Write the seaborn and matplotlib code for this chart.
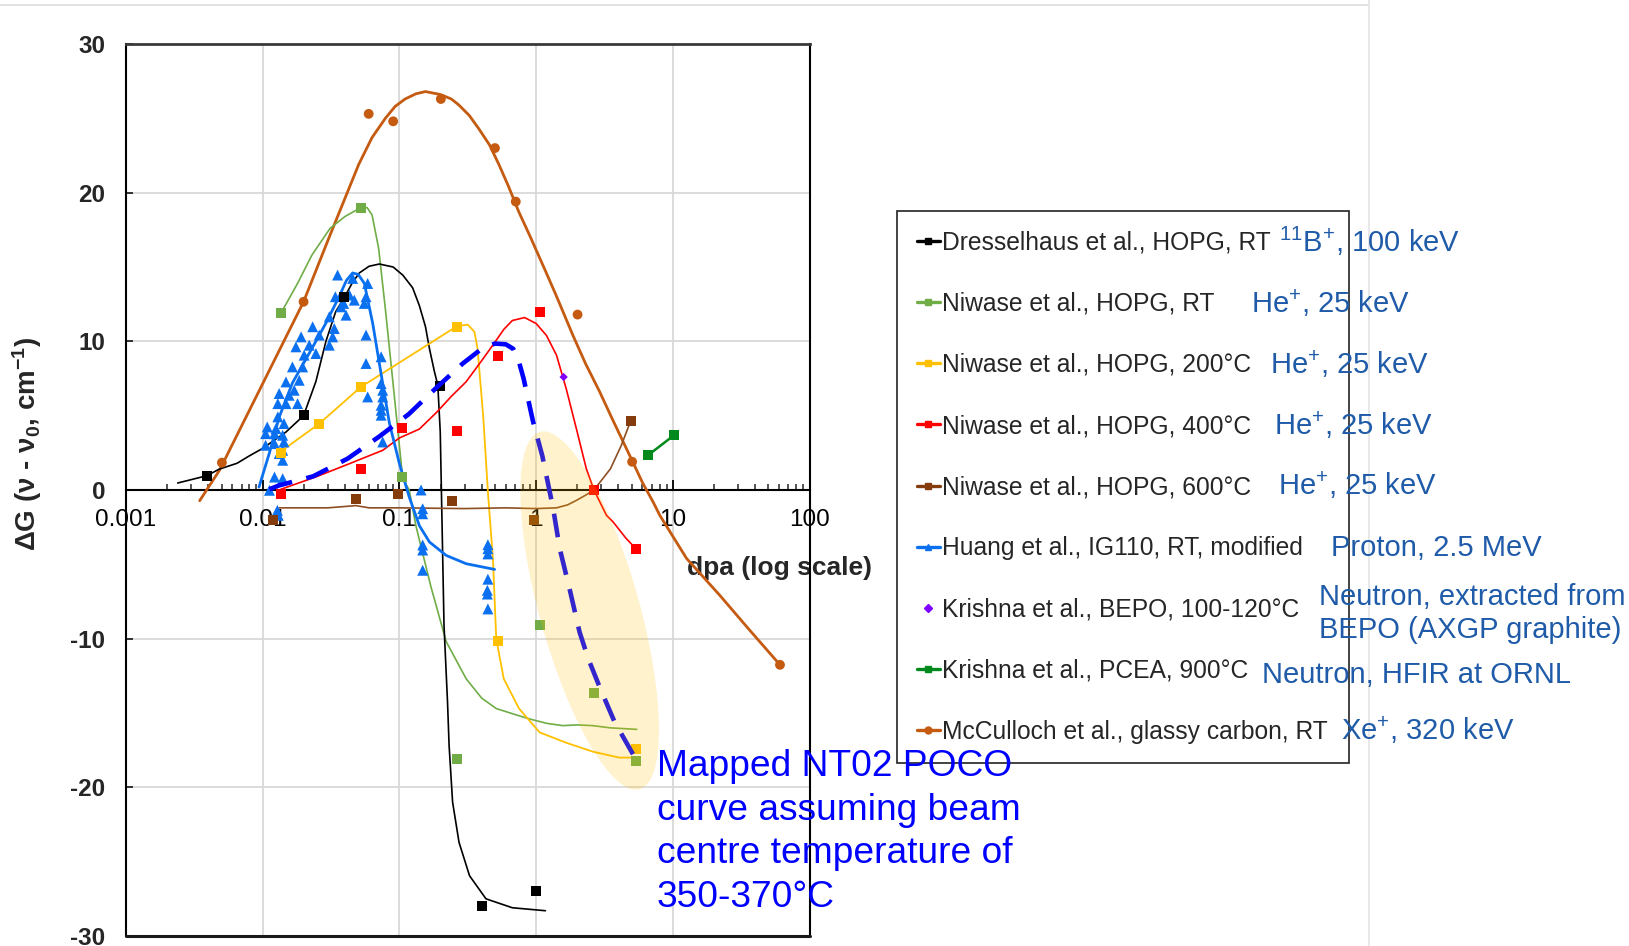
import numpy as np
import pandas as pd
import matplotlib
matplotlib.use("Agg")
import matplotlib.pyplot as plt
import matplotlib.ticker as mticker
import seaborn as sns
from matplotlib.lines import Line2D
from matplotlib.patches import Ellipse
from matplotlib.transforms import IdentityTransform

# ---------------- data ----------------
x_ticks = [0.001, 0.01, 0.1, 1, 10, 100]
x_tick_labels = ["0.001", "0.01", "0.1", "1", "10", "100"]
y_ticks = [-30, -20, -10, 0, 10, 20, 30]
y_tick_labels = ["-30", "-20", "-10", "0", "10", "20", "30"]

# Dresselhaus et al., HOPG, RT
dress_x = [0.0039, 0.0199, 0.0393, 0.199, 0.40, 1.0]
dress_y = [0.96, 5.03, 12.95, 7.0, -27.97, -27.0]
dress_cx = [0.00239, 0.0039, 0.0048, 0.0065, 0.008, 0.01, 0.0148, 0.0199, 0.0245, 0.029,
            0.0342, 0.0393, 0.045, 0.0509, 0.06, 0.0713, 0.09, 0.106, 0.125, 0.14, 0.155,
            0.166, 0.18, 0.191, 0.199, 0.205, 0.212, 0.225, 0.231, 0.245, 0.273, 0.326, 0.43,
            0.67, 1.17]
dress_cy = [0.47, 0.96, 1.4, 1.8, 2.3, 2.8, 3.9, 5.0, 7.3, 10.0,
            12.0, 12.9, 13.9, 14.6, 15.05, 15.2, 15.0, 14.45, 13.6, 12.4, 11.0,
            9.5, 8.0, 7.05, 3.9, -2.15, -9.1, -14.3, -17.2, -21.0, -23.7, -25.95, -27.5,
            -28.1, -28.3]

# Niwase et al., HOPG, RT
nrt_x = [0.0136, 0.0524, 0.1047, 0.262, 1.06, 2.64, 5.36]
nrt_y = [11.9, 19.0, 0.87, -18.1, -9.07, -13.65, -18.2]
nrt_cx = [0.0136, 0.018, 0.0229, 0.0311, 0.04, 0.0524, 0.058, 0.0631, 0.0705, 0.0789, 0.09,
          0.1058, 0.118, 0.132, 0.17, 0.22, 0.308, 0.4, 0.511, 0.7, 0.896, 1.2, 1.57, 2.0,
          2.6, 3.5, 5.45]
nrt_cy = [11.9, 13.9, 15.8, 17.6, 18.4, 19.0, 19.0, 18.5, 16.25, 12.2, 7.1,
          0.76, 0.0, -2.4, -6.5, -10.2, -12.7, -14.0, -14.7, -15.1, -15.4, -15.7, -15.85, -15.8,
          -15.85, -16.0, -16.1]

# Niwase et al., HOPG, 200C
n200_x = [0.0136, 0.0259, 0.0524, 0.262, 0.525, 5.36]
n200_y = [2.5, 4.46, 6.94, 10.98, -10.19, -17.4]
n200_cx = [0.0136, 0.0259, 0.0524, 0.262, 0.316, 0.354, 0.373, 0.41, 0.444, 0.483, 0.511,
           0.58, 0.75, 1.06, 1.66, 2.6, 4.06, 5.3]
n200_cy = [2.6, 4.46, 6.94, 11.0, 11.13, 10.64, 9.5, 5.0, -0.13, -4.6, -10.0,
           -12.7, -14.7, -16.3, -17.0, -17.6, -18.0, -18.0]

# Niwase et al., HOPG, 400C
n400_x = [0.0136, 0.0524, 0.1047, 0.262, 0.525, 1.06, 2.65, 5.36]
n400_y = [-0.25, 1.39, 4.17, 3.97, 9.0, 12.0, 0.0, -4.0]
n400_cx = [0.0136, 0.0245, 0.0431, 0.0755, 0.1, 0.14, 0.186, 0.24, 0.307, 0.4, 0.482, 0.58,
           0.67, 0.824, 1.0, 1.19, 1.41, 1.66, 1.97, 2.33, 2.65, 3.27, 3.66, 4.5, 5.36]
n400_cy = [0.05, 0.88, 1.77, 2.67, 3.5, 4.1, 5.2, 6.3, 7.27, 8.7, 9.74, 10.8,
           11.4, 11.6, 11.2, 10.4, 9.07, 6.82, 4.13, 1.43, 0.0, -1.7, -2.15, -3.2, -3.95]

# Niwase et al., HOPG, 600C
n600_x = [0.0118, 0.048, 0.097, 0.243, 0.96, 4.92]
n600_y = [-2.0, -0.58, -0.3, -0.76, -2.0, 4.65]
n600_cx = [0.0132, 0.03, 0.048, 0.06, 0.1, 0.3, 0.6, 1.0, 1.41, 1.7, 1.97, 2.3, 2.65, 3.5,
           4.2, 4.92]
n600_cy = [-1.2, -1.2, -1.05, -1.2, -1.2, -1.25, -1.2, -1.25, -1.2, -1.0, -0.7, -0.35, 0.0,
           1.43, 3.0, 4.65]

# Huang et al., IG110, RT, modified (triangles)
huang_x = [0.0353, 0.0455, 0.0586, 0.0340, 0.0391, 0.0431, 0.0468, 0.0570, 0.0374, 0.0407,
           0.0553, 0.0307, 0.0334, 0.0232, 0.0325, 0.0191, 0.0259, 0.0219, 0.0307, 0.0175,
           0.0201, 0.0245, 0.0165, 0.0196, 0.0570, 0.0570, 0.0735, 0.0148, 0.0185, 0.0170,
           0.0735, 0.0132, 0.0156, 0.0180, 0.0129, 0.0148, 0.0586, 0.0755, 0.0755, 0.0735,
           0.0735, 0.0735, 0.0129, 0.0143, 0.0108, 0.0125, 0.0105, 0.0122, 0.0140, 0.0105,
           0.0122, 0.0143, 0.0140, 0.0132, 0.0140, 0.0122, 0.0140, 0.0112, 0.0755, 0.144,
           0.0128, 0.0130, 0.148, 0.148, 0.148, 0.148, 0.148, 0.444, 0.444, 0.444,
           0.444, 0.440, 0.440, 0.444]
huang_y = [14.46, 14.23, 13.89, 13.0, 12.55, 13.11, 12.77, 13.0, 12.32, 11.76,
           12.55, 11.65, 10.86, 10.98, 10.30, 10.30, 10.42, 9.74, 9.74, 9.63,
           9.07, 9.18, 8.28, 8.28, 10.42, 8.51, 8.96, 7.27, 7.38, 6.71,
           7.16, 6.49, 6.37, 5.81, 5.81, 5.81, 6.26, 6.71, 6.26, 5.70,
           5.36, 5.03, 4.92, 4.47, 4.24, 4.13, 3.79, 3.79, 3.68, 3.01,
           3.12, 3.23, 2.67, 2.45, 2.0, 0.87, 0.76, -0.02, 3.23, 0.0,
           -1.37, -1.7, -1.26, -1.6, -3.7, -4.04, -5.4, -3.68, -3.95, -4.3,
           -6.0, -6.75, -7.0, -8.0]
huang_cx = [0.0094, 0.0112, 0.0132, 0.0165, 0.0219, 0.0289, 0.0362, 0.041, 0.0455, 0.05,
            0.0554, 0.0638, 0.0735, 0.0845, 0.1, 0.118, 0.14, 0.166, 0.22, 0.308, 0.497]
huang_cy = [0.2, 2.5, 4.9, 7.2, 9.2, 11.2, 13.0, 14.1, 14.6, 14.5,
            13.9, 11.2, 7.8, 4.5, 1.77, -0.47, -2.4, -3.5, -4.4, -4.96, -5.34]

# Krishna et al., BEPO
bepo_x = [1.59]
bepo_y = [7.6]
# Krishna et al., PCEA, 900C
pcea_x = [6.59, 10.2]
pcea_y = [2.34, 3.68]

# McCulloch et al., glassy carbon, RT
mcc_x = [0.00503, 0.0199, 0.0596, 0.090, 0.201, 0.50, 0.71, 2.01, 5.04, 60.8]
mcc_y = [1.84, 12.66, 25.3, 24.8, 26.3, 23.0, 19.4, 11.8, 1.9, -11.76]
mcc_cx = [0.00346, 0.00483, 0.0199, 0.0311, 0.0504, 0.063, 0.0789, 0.093, 0.11, 0.132,
          0.155, 0.2, 0.24, 0.272, 0.324, 0.381, 0.457, 0.534, 0.63, 0.748, 0.9, 1.175, 1.4,
          1.86, 2.3, 2.92, 3.6, 4.58, 5.07, 6.0, 7.18, 8.03, 12.6, 22.1, 35.5, 60.8]
mcc_cy = [-0.72, 1.33, 12.66, 17.15, 21.9, 23.7, 25.0, 25.8, 26.3, 26.65,
          26.8, 26.6, 26.3, 25.9, 25.2, 24.3, 23.2, 21.9, 20.4, 18.7, 17.1, 14.7, 13.1,
          10.4, 8.5, 6.6, 4.8, 2.78, 1.93, 0.5, -0.81, -1.7, -4.6, -7.09, -9.3, -11.76]

# Mapped NT02 POCO curve (dashed)
nt02_x = [0.0112, 0.0132, 0.0234, 0.0418, 0.0713, 0.117, 0.186, 0.29, 0.4, 0.5, 0.6, 0.68,
          0.75, 0.81, 0.95, 1.11, 1.33, 1.49, 1.78, 2.08, 2.41, 2.96, 3.75, 5.36]
nt02_y = [0.05, 0.31, 0.92, 2.11, 3.6, 5.1, 6.87, 8.5, 9.5, 9.85, 9.8, 9.5,
          8.6, 7.5, 4.6, 2.3, -1.2, -3.95, -6.87, -9.56, -11.36, -13.4, -15.6, -18.1]

series_labels = ["Dresselhaus et al., HOPG, RT", "Niwase et al., HOPG, RT",
                 "Niwase et al., HOPG, 200°C", "Niwase et al., HOPG, 400°C",
                 "Niwase et al., HOPG, 600°C", "Huang et al., IG110, RT, modified",
                 "Krishna et al., BEPO, 100-120°C", "Krishna et al., PCEA, 900°C",
                 "McCulloch et al., glassy carbon, RT"]
ion_labels = ["$^{11}$B$^{+}$, 100 keV", "He$^{+}$, 25 keV", "He$^{+}$, 25 keV",
              "He$^{+}$, 25 keV", "He$^{+}$, 25 keV", "Proton, 2.5 MeV",
              "Neutron, extracted from\nBEPO (AXGP graphite)", "Neutron, HFIR at ORNL",
              "Xe$^{+}$, 320 keV"]
note_text = "Mapped NT02 POCO\ncurve assuming beam\ncentre temperature of\n350-370°C"
x_label = "dpa (log scale)"
y_label = "ΔG (ν - ν$_0$, cm$^{-1}$)"

# ---------------- styling ----------------
sns.set_theme(style="white")
plt.rcParams["font.family"] = ["Liberation Sans", "DejaVu Sans"]
plt.rcParams["mathtext.default"] = "regular"
plt.rcParams["axes.unicode_minus"] = False

C_BLACK = "#000000"
C_GREEN = "#70AD47"
C_YELLOW = "#FFC000"
C_RED = "#FF0000"
C_BROWN = "#843C0C"
C_BLUE = "#0A70F0"
C_PURPLE = "#7F00FF"
C_DGREEN = "#008A1E"
C_ORANGE = "#C55A11"
C_NOTE = "#1F5BA8"

W, H = 1629, 946
fig = plt.figure(figsize=(W / 100, H / 100), dpi=100)
fig.patch.set_facecolor("white")
ax = fig.add_axes([126 / W, 1 - 936 / H, (809.5 - 126) / W, (936 - 44) / H])
ax.set_xscale("log")
ax.set_xlim(0.001, 100)
ax.set_ylim(-30, 30)


def curve(x, y, color, lw, z=3):
    sns.lineplot(x=x, y=y, ax=ax, color=color, linewidth=lw, sort=False,
                 estimator=None, legend=False, zorder=z)


def points(x, y, color, marker, s, z=4):
    sns.scatterplot(x=x, y=y, ax=ax, color=color, marker=marker, s=s,
                    edgecolor="none", linewidth=0, legend=False, zorder=z)


curve(mcc_cx, mcc_cy, C_ORANGE, 2.0)
curve(nrt_cx, nrt_cy, C_GREEN, 1.2)
curve(dress_cx, dress_cy, C_BLACK, 1.2)
curve(n200_cx, n200_cy, C_YELLOW, 1.3)
curve(n400_cx, n400_cy, C_RED, 1.2)
curve(n600_cx, n600_cy, "#8E4E24", 1.2)
curve(pcea_x, pcea_y, C_DGREEN, 1.8)
curve(huang_cx, huang_cy, C_BLUE, 2.0)
curve(nt02_x, nt02_y, "#0000FF", 3.3, z=5)
ax.lines[-1].set_linestyle((0, (5.2, 3.2)))

points(huang_x, huang_y, C_BLUE, "^", 62)
points(mcc_x, mcc_y, C_ORANGE, "o", 50)
points(dress_x, dress_y, C_BLACK, "s", 52)
points(nrt_x, nrt_y, C_GREEN, "s", 52)
points(n200_x, n200_y, C_YELLOW, "s", 52)
points(n400_x, n400_y, C_RED, "s", 52)
points(n600_x, n600_y, C_BROWN, "s", 52)
points(pcea_x, pcea_y, C_DGREEN, "s", 52)
points(bepo_x, bepo_y, C_PURPLE, "D", 18)

# axes styling
ax.set_xticks(x_ticks, labels=x_tick_labels, fontweight="bold")
ax.xaxis.set_minor_locator(mticker.LogLocator(base=10, subs=np.arange(2, 10), numticks=20))
ax.xaxis.set_minor_formatter(mticker.NullFormatter())
ax.set_yticks(y_ticks, labels=y_tick_labels, fontweight="bold")
ax.tick_params(axis="x", which="major", direction="in", length=7, width=1.3, pad=14,
               labelsize=17.5, colors="black", bottom=True, top=False)
ax.tick_params(axis="x", which="minor", direction="in", length=4.5, width=1.1,
               bottom=True, top=False)
ax.tick_params(axis="y", which="major", direction="in", length=5, width=1.3, pad=15,
               labelsize=17.5, left=True, right=False)
ax.grid(True, which="major", color="#d9d9d9", linewidth=1.3)
ax.set_axisbelow(True)
ax.spines["bottom"].set_position(("data", 0))
for k in ["left", "right", "bottom"]:
    ax.spines[k].set_color("black")
    ax.spines[k].set_linewidth(1.5)
ax.spines["top"].set_color("#3a3a3a")
ax.spines["top"].set_linewidth(2.0)
ax.axhline(-30, color="#1a1a1a", linewidth=2.2, clip_on=False, zorder=6)

ax.set_xlabel(x_label, fontsize=19, fontweight="bold", va="center", ha="center")
ax.xaxis.set_label_coords((779.5 - 126) / 683.5, (936 - 568) / 892)
ax.set_ylabel(y_label, fontsize=20, fontweight="bold", va="center", ha="center")
ax.yaxis.set_label_coords((27 - 126) / 683.5, (936 - 444) / 892)

# highlighted ellipse (drawn in pixel space around the data centre)
fig.canvas.draw()
cx, cy = ax.transData.transform((2.466, -8.11))
ell = Ellipse((cx, cy), 100, 371, angle=15.6, transform=IdentityTransform(),
              facecolor="#FFBF00", alpha=0.2, edgecolor="none", zorder=10)
ax.add_artist(ell)

# legend
handles = [
    Line2D([], [], color=C_BLACK, lw=2.4, marker="s", markersize=5),
    Line2D([], [], color=C_GREEN, lw=2.4, marker="s", markersize=5),
    Line2D([], [], color=C_YELLOW, lw=2.4, marker="s", markersize=5),
    Line2D([], [], color=C_RED, lw=2.4, marker="s", markersize=5),
    Line2D([], [], color=C_BROWN, lw=2.4, marker="s", markersize=5),
    Line2D([], [], color=C_BLUE, lw=2.4, marker="^", markersize=5),
    Line2D([], [], color=C_PURPLE, lw=0, marker="D", markersize=4),
    Line2D([], [], color=C_DGREEN, lw=2.4, marker="s", markersize=5),
    Line2D([], [], color=C_ORANGE, lw=2.4, marker="o", markersize=5),
]
leg = fig.legend(handles, series_labels, loc="upper left", mode="expand",
                 bbox_to_anchor=(897 / W, 1 - 758 / H, (1349 - 897) / W, (758 - 211) / H),
                 bbox_transform=fig.transFigure,
                 frameon=True, fancybox=False, edgecolor="#222222", framealpha=1,
                 fontsize=17.7, handlelength=0.95, handletextpad=0.1, labelspacing=1.51,
                 borderpad=0.8, borderaxespad=0)
leg.get_frame().set_linewidth(1.2)

# ion / source annotations
ion_x = [1279, 1251, 1269.5, 1274, 1278, 1331, 1319, 1262, 1341]
ion_y = [241.5, 303, 364, 425, 485, 548, 613.5, 675, 730]
for t, px, py in zip(ion_labels, ion_x, ion_y):
    fig.text(px / W, 1 - py / H, t, color=C_NOTE, fontsize=21, ha="left", va="center",
             linespacing=1.25, zorder=20)

fig.text(657 / W, 1 - 832 / H, note_text, color="#0000FF", fontsize=26.7, ha="left",
         va="center", linespacing=1.33, zorder=20)

# slide frame lines
fig.add_artist(Line2D([0, 1369 / W], [1 - 5 / H, 1 - 5 / H], transform=fig.transFigure,
                      color="#dcdcdc", lw=1.2))
fig.add_artist(Line2D([1369 / W, 1369 / W], [0, 1], transform=fig.transFigure,
                      color="#e4e4e4", lw=1.2))

fig.savefig("out.png", dpi=100, facecolor="white")
